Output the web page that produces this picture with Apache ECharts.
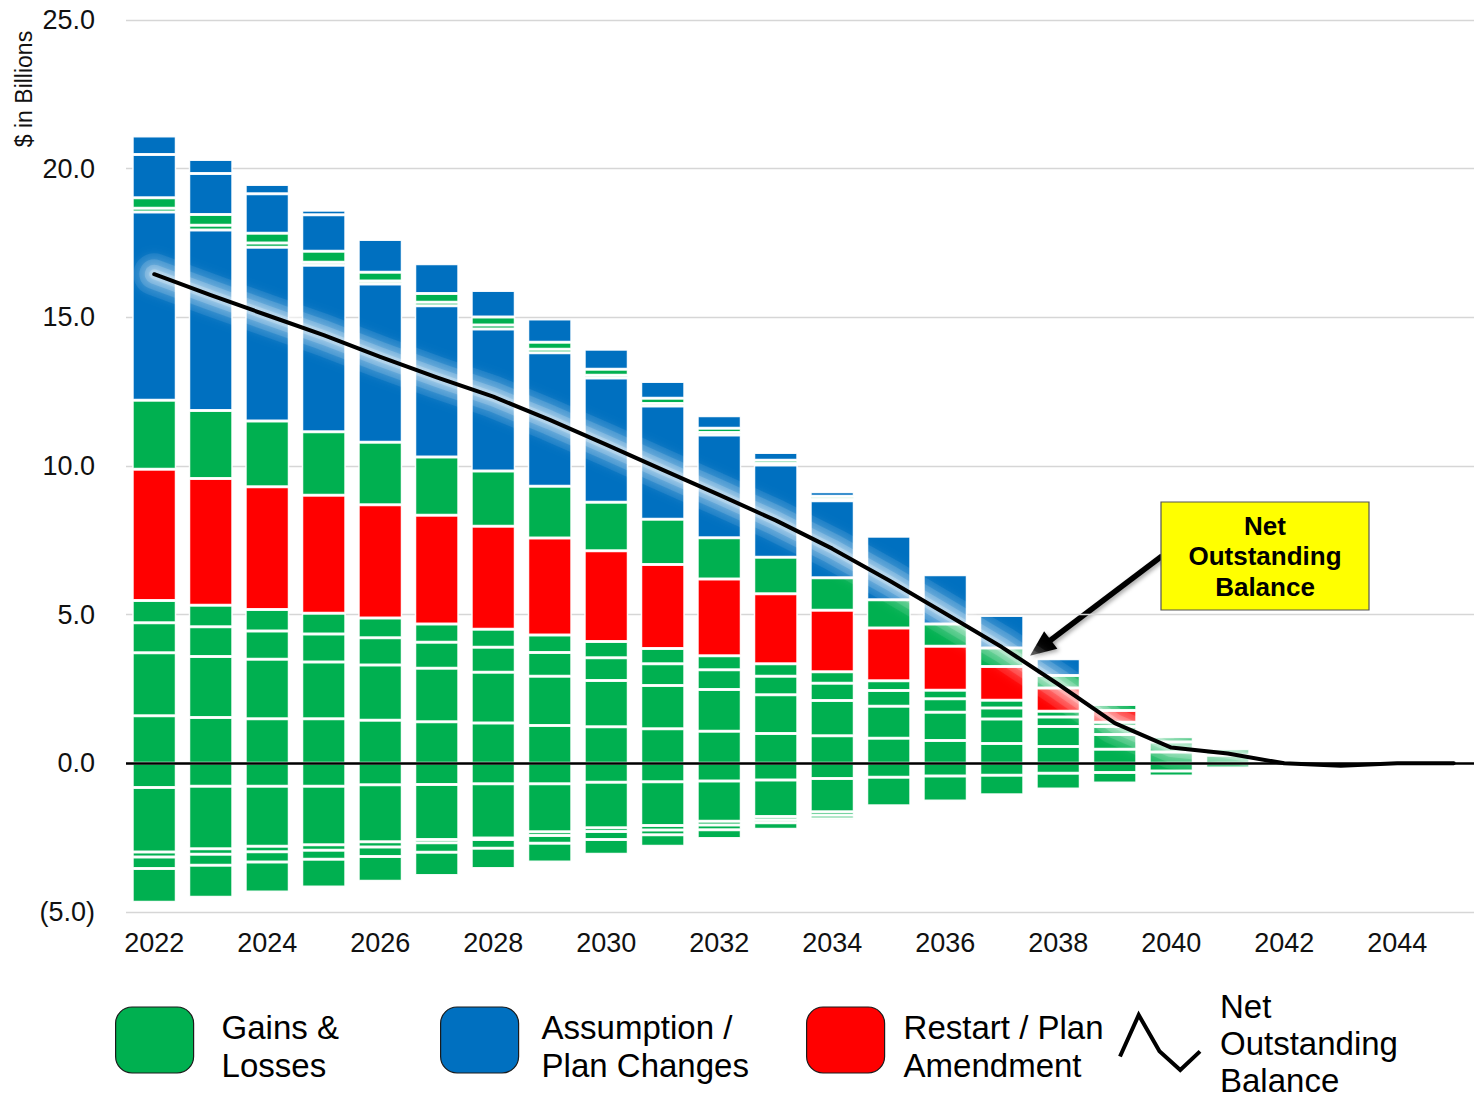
<!DOCTYPE html>
<html>
<head>
<meta charset="utf-8">
<title>Outstanding Balance by Source</title>
<script src="https://cdn.jsdelivr.net/npm/echarts@6/dist/echarts.min.js"></script>
<style>
  html, body { margin: 0; padding: 0; background: #ffffff; }
  #chart { width: 1474px; height: 1099px; }
</style>
</head>
<body>
<div id="chart"></div>
<script>
// Fiscal years on the category axis
const years = ['2022','2023','2024','2025','2026','2027','2028','2029','2030','2031','2032','2033',
               '2034','2035','2036','2037','2038','2039','2040','2041','2042','2043','2044','2045'];

// Positive amortization layers, listed from the zero line upward ($ billions)
const gainsBase1   = [1.60,1.54,1.50,1.50,1.45,1.40,1.36,1.27,1.23,1.16,1.08,1.00,0.93,0.84,0.77,0.67,0.57,0.47,0.38,0.27,0.10,0,0,0];
const gainsBase2   = [2.12,2.05,2.00,1.91,1.86,1.80,1.70,1.66,1.56,1.46,1.40,1.31,1.18,1.08,0.95,0.82,0.67,0.50,0.34,0.22,0,0,0,0];
const gainsBase3   = [1.01,1.00,0.95,0.94,0.91,0.87,0.84,0.80,0.76,0.73,0.67,0.62,0.58,0.53,0.45,0.37,0.32,0.27,0.17,0,0,0,0,0];
const gainsBase4   = [0.75,0.73,0.72,0.70,0.67,0.62,0.61,0.59,0.55,0.51,0.47,0.42,0.39,0.33,0.29,0.26,0.19,0.14,0,0,0,0,0,0];
const restartPlan  = [4.41,4.26,4.13,3.97,3.81,3.65,3.46,3.26,3.05,2.83,2.58,2.35,2.07,1.77,1.48,1.14,0.78,0.40,0,0,0,0,0,0];
const gainsMid     = [2.32,2.29,2.21,2.13,2.10,1.96,1.86,1.74,1.63,1.52,1.39,1.23,1.09,0.95,0.75,0.62,0.42,0.20,0,0,0,0,0,0];
const assumpMain   = [6.33,6.07,5.85,5.60,5.32,5.09,4.78,4.49,4.18,3.81,3.45,3.10,2.59,2.14,1.65,1.09,0.57,0,0,0,0,0,0,0];
const gainsThin    = [0.13,0.16,0.14,0.10,0.10,0.12,0.13,0.12,0.09,0.08,0.09,0.05,0.05,0,0,0,0,0,0,0,0,0,0,0];
const gainsUpper   = [0.35,0.36,0.33,0.37,0.30,0.29,0.27,0.23,0.20,0.18,0.14,0.11,0.10,0,0,0,0,0,0,0,0,0,0,0];
const assumpUpper  = [1.46,1.38,1.33,1.23,1.10,1.00,0.89,0.78,0.68,0.56,0.42,0.26,0.15,0,0,0,0,0,0,0,0,0,0,0];
const assumpTop    = [0.62,0.47,0.31,0.15,0,0,0,0,0,0,0,0,0,0,0,0,0,0,0,0,0,0,0,0];

// Negative layers, listed from the zero line downward ($ billions)
const gainsNeg1    = [-0.81,-0.77,-0.77,-0.77,-0.72,-0.71,-0.69,-0.69,-0.64,-0.62,-0.59,-0.56,-0.51,-0.47,-0.43,-0.40,-0.33,-0.31,-0.26,-0.16,-0.08,0,0,0];
const gainsNeg2    = [-2.17,-2.10,-2.02,-1.97,-1.92,-1.85,-1.82,-1.61,-1.53,-1.47,-1.36,-1.23,-1.12,-0.96,-0.84,-0.66,-0.53,-0.35,-0.17,0,0,0,0,0];
const gainsNeg3    = [-0.17,-0.19,-0.18,-0.18,-0.17,-0.11,-0.05,-0.13,-0.12,-0.15,-0.12,-0.11,-0.12,-0.05,0,0,0,0,0,0,0,0,0,0];
const gainsNeg4    = [-0.39,-0.37,-0.35,-0.31,-0.32,-0.32,-0.30,-0.26,-0.27,-0.16,-0.16,-0.10,-0.11,0,0,0,0,0,0,0,0,0,0,0];
const gainsNeg5    = [-1.13,-1.07,-1.01,-0.93,-0.84,-0.78,-0.68,-0.63,-0.50,-0.39,-0.30,-0.22,-0.06,0,0,0,0,0,0,0,0,0,0,0];

// Net outstanding balance ($ billions)
const netBalance   = [16.45,15.75,15.07,14.40,13.67,12.98,12.33,11.55,10.72,9.87,9.03,8.17,
                      7.22,6.16,5.04,3.91,2.66,1.35,0.53,0.33,0.00,-0.08,0.00,0.00];

// Y axis tick range
const yMin = -5, yMax = 25, yStep = 5;

const FONT = '"Liberation Sans", Arial, Helvetica, sans-serif';
const GREEN = '#00B050', BLUE = '#0070C0', RED = '#FF0000';
const NAME_GAINS = 'Gains & Losses';
const NAME_ASSUMP = 'Assumption / Plan Changes';
const NAME_RESTART = 'Restart / Plan Amendment';
const NAME_NET = 'Net Outstanding Balance';

const layers = [
  [gainsBase1, NAME_GAINS, GREEN],
  [gainsBase2, NAME_GAINS, GREEN],
  [gainsBase3, NAME_GAINS, GREEN],
  [gainsBase4, NAME_GAINS, GREEN],
  [restartPlan, NAME_RESTART, RED],
  [gainsMid, NAME_GAINS, GREEN],
  [assumpMain, NAME_ASSUMP, BLUE],
  [gainsThin, NAME_GAINS, GREEN],
  [gainsUpper, NAME_GAINS, GREEN],
  [assumpUpper, NAME_ASSUMP, BLUE],
  [assumpTop, NAME_ASSUMP, BLUE],
  [gainsNeg1, NAME_GAINS, GREEN],
  [gainsNeg2, NAME_GAINS, GREEN],
  [gainsNeg3, NAME_GAINS, GREEN],
  [gainsNeg4, NAME_GAINS, GREEN],
  [gainsNeg5, NAME_GAINS, GREEN]
];

const barSeries = layers.map(([values, name, color]) => ({
  type: 'bar',
  name: name,
  stack: 'balance',
  barWidth: 44,
  data: values.map(v => (v === 0 ? '-' : v)),
  itemStyle: { color: color, borderColor: 'rgba(255,255,255,0.92)', borderWidth: 1.5 },
  emphasis: { disabled: true },
  silent: true
}));

// soft light glow under the balance line, built from a few widening translucent strokes
const glowStrokes = [
  { width: 42, alpha: 0.08, blur: 10 },
  { width: 30, alpha: 0.12, blur: 8 },
  { width: 19, alpha: 0.17, blur: 6 },
  { width: 10, alpha: 0.22, blur: 4 }
];
const glowSeries = glowStrokes.map(g => ({
  type: 'line',
  name: NAME_NET,
  data: netBalance,
  symbol: 'none',
  silent: true,
  z: 3,
  lineStyle: {
    color: 'rgba(255,255,255,' + g.alpha + ')',
    width: g.width,
    cap: 'round',
    join: 'round',
    shadowColor: 'rgba(255,255,255,1)',
    shadowBlur: g.blur
  }
}));

const lineSeries = {
  type: 'line',
  name: NAME_NET,
  data: netBalance,
  symbol: 'none',
  silent: true,
  z: 4,
  lineStyle: { color: '#000000', width: 4, cap: 'round', join: 'round' },
  itemStyle: { color: '#000000' },
  markLine: {
    silent: true,
    symbol: ['none', 'none'],
    label: { show: false },
    lineStyle: { color: '#000000', width: 2.5, type: 'solid' },
    data: [{ yAxis: 0 }]
  }
};

// Legend labels use a small spacer line on top so the wording sits a little below the swatch centre
function legendBlock(name, lines, left, top, icon, w, h, padLeft, spacer, lineH, itemStyle) {
  const text = '{s| }\n' + lines.map(l => '{t|' + l + '}').join('\n');
  return {
    data: [{ name: name, icon: icon }],
    left: left,
    top: top,
    orient: 'horizontal',
    padding: 0,
    itemWidth: w,
    itemHeight: h,
    selectedMode: false,
    formatter: () => text,
    itemStyle: itemStyle,
    textStyle: {
      fontFamily: FONT,
      fontSize: 33,
      color: '#000000',
      padding: [0, 0, 0, padLeft],
      rich: {
        s: { fontSize: 2, lineHeight: spacer, height: spacer },
        t: { fontFamily: FONT, fontSize: 33, lineHeight: lineH, color: '#000000' }
      }
    }
  };
}

const swatch = { borderColor: '#1a1a1a', borderWidth: 1.2 };

const yTitle = {
  type: 'text',
  x: 24,
  y: 89,
  rotation: Math.PI / 2,
  style: {
    text: '$ in Billions',
    fontFamily: FONT,
    fontSize: 23,
    fill: '#111111',
    align: 'center',
    verticalAlign: 'middle'
  }
};

const chart = echarts.init(document.getElementById('chart'), null, { renderer: 'svg' });

chart.setOption({
  animation: false,
  backgroundColor: '#ffffff',
  grid: { left: 126, width: 1356, top: 20, bottom: 187, containLabel: false, outerBoundsMode: 'none' },
  xAxis: {
    type: 'category',
    data: years,
    axisLine: { show: false, onZero: false },
    axisTick: { show: false },
    axisLabel: { interval: 1, fontFamily: FONT, fontSize: 27, color: '#111111', margin: 17 },
    splitLine: { show: false }
  },
  yAxis: {
    type: 'value',
    min: yMin,
    max: yMax,
    interval: yStep,
    axisLine: { show: false },
    axisTick: { show: false },
    splitLine: { lineStyle: { color: '#d6d6d6', width: 1.3 } },
    axisLabel: {
      fontFamily: FONT,
      fontSize: 27,
      color: '#111111',
      margin: 31,
      formatter: v => (v < 0 ? '(' + Math.abs(v).toFixed(1) + ')' : v.toFixed(1))
    }
  },
  legend: [
    legendBlock(NAME_GAINS, ['Gains &', 'Losses'], 115, 996, 'roundRect', 78, 66, 23, 12, 38, swatch),
    legendBlock(NAME_ASSUMP, ['Assumption /', 'Plan Changes'], 440, 996, 'roundRect', 78, 66, 18, 12, 38, swatch),
    legendBlock(NAME_RESTART, ['Restart / Plan', 'Amendment'], 806, 996, 'roundRect', 78, 66, 14, 12, 38, swatch),
    legendBlock(NAME_NET, ['Net', 'Outstanding', 'Balance'], 1118, 986, 'path://M2,43 L20,3 L40,38 L60,56 L79,38', 80, 58, 15, 2, 37,
      { color: 'rgba(0,0,0,0)', borderColor: '#000000', borderWidth: 4 })
  ],
  series: barSeries.concat(glowSeries, [lineSeries]),
  graphic: [yTitle]
});

// Callout box with an arrow pointing at the balance line between 2037 and 2038
const pA = chart.convertToPixel({ gridIndex: 0 }, [15, netBalance[15]]);
const pB = chart.convertToPixel({ gridIndex: 0 }, [16, netBalance[16]]);
const tip = [(pA[0] + pB[0]) / 2, (pA[1] + pB[1]) / 2 - 10];
const box = { x: 1161, y: 502, w: 208, h: 108 };
const tail = [box.x + 1, box.y + box.h / 2];
const dx = tip[0] - tail[0], dy = tip[1] - tail[1];
const len = Math.sqrt(dx * dx + dy * dy);
const ux = dx / len, uy = dy / len;
const headLen = 26, headHalf = 11;
const base = [tip[0] - ux * headLen, tip[1] - uy * headLen];
const head = [
  tip,
  [base[0] - uy * headHalf, base[1] + ux * headHalf],
  [base[0] + uy * headHalf, base[1] - ux * headHalf]
];

chart.setOption({
  graphic: [
    yTitle,
    {
      type: 'group',
      z: 100,
      children: [
        {
          type: 'line',
          shape: { x1: tail[0], y1: tail[1], x2: base[0] + ux * 2, y2: base[1] + uy * 2 },
          style: { stroke: '#000000', lineWidth: 5.5, shadowColor: 'rgba(0,0,0,0.35)', shadowBlur: 4, shadowOffsetX: 2, shadowOffsetY: 2 }
        },
        {
          type: 'polygon',
          shape: { points: head },
          style: { fill: '#000000', shadowColor: 'rgba(0,0,0,0.35)', shadowBlur: 4, shadowOffsetX: 2, shadowOffsetY: 2 }
        },
        {
          type: 'rect',
          shape: { x: box.x, y: box.y, width: box.w, height: box.h },
          style: { fill: '#FFFF00', stroke: '#555555', lineWidth: 1.2 }
        },
        {
          type: 'text',
          x: box.x + box.w / 2,
          y: box.y + box.h / 2,
          style: {
            text: 'Net\nOutstanding\nBalance',
            fontFamily: FONT,
            fontSize: 26,
            fontWeight: 'bold',
            lineHeight: 30.5,
            fill: '#000000',
            align: 'center',
            verticalAlign: 'middle'
          }
        }
      ]
    }
  ]
});
</script>
</body>
</html>
